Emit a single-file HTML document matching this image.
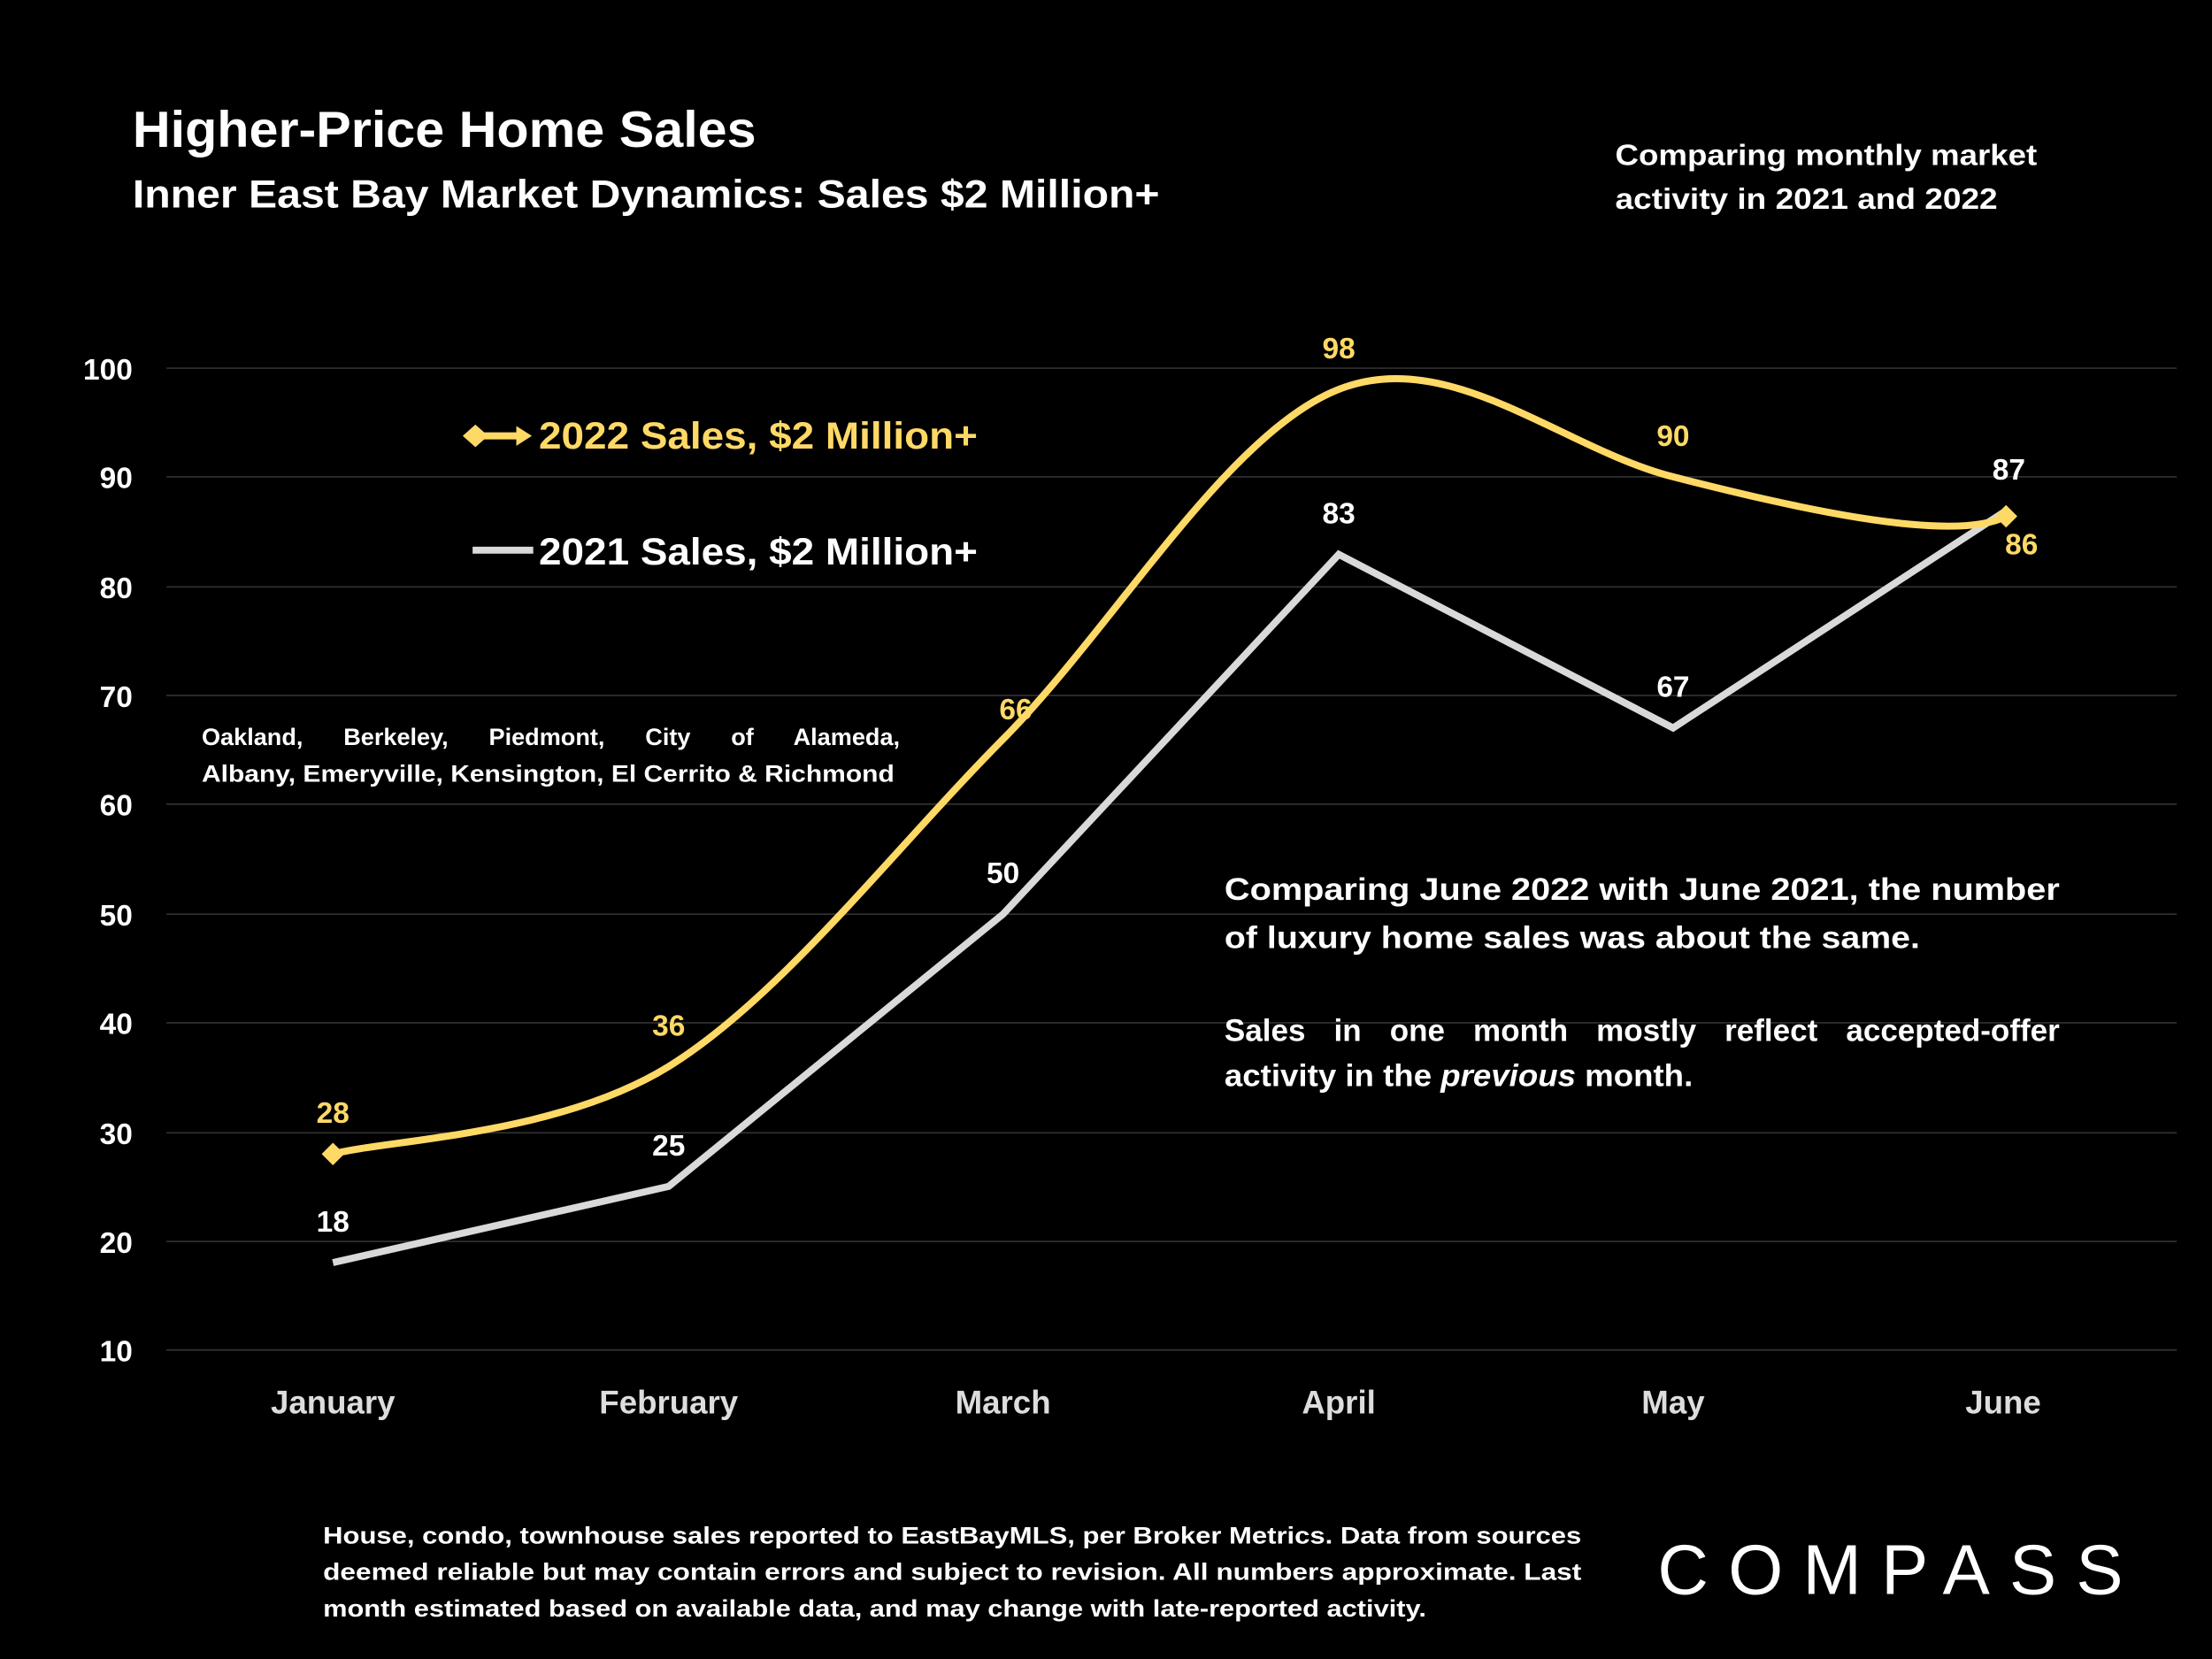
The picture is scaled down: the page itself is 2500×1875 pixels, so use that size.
<!DOCTYPE html>
<html><head><meta charset="utf-8"><style>
html,body{margin:0;padding:0;background:#000;}
svg{display:block;}
text{font-family:"Liberation Sans",sans-serif;font-weight:bold;}
</style></head><body>
<svg width="2500" height="1875" viewBox="0 0 1568 1176" xmlns="http://www.w3.org/2000/svg">
<rect width="1568" height="1176" fill="#000"/>
<text x="94" y="104" fill="#fff" font-size="36" textLength="442" lengthAdjust="spacingAndGlyphs">Higher-Price Home Sales</text>
<text x="94" y="147" fill="#fff" font-size="28" textLength="728" lengthAdjust="spacingAndGlyphs">Inner East Bay Market Dynamics: Sales $2 Million+</text>
<text x="1145" y="117" fill="#fff" font-size="21" textLength="299" lengthAdjust="spacingAndGlyphs">Comparing monthly market</text>
<text x="1145" y="148" fill="#fff" font-size="21" textLength="271" lengthAdjust="spacingAndGlyphs">activity in 2021 and 2022</text>
<g stroke="#333" stroke-width="1">
<line x1="118" y1="261" x2="1543" y2="261"/><line x1="118" y1="338" x2="1543" y2="338"/>
<line x1="118" y1="416" x2="1543" y2="416"/><line x1="118" y1="493" x2="1543" y2="493"/>
<line x1="118" y1="570" x2="1543" y2="570"/><line x1="118" y1="648" x2="1543" y2="648"/>
<line x1="118" y1="725" x2="1543" y2="725"/><line x1="118" y1="803" x2="1543" y2="803"/>
<line x1="118" y1="880" x2="1543" y2="880"/><line x1="118" y1="957" x2="1543" y2="957"/>
</g>
<g fill="#fff" font-size="21" text-anchor="end">
<text x="94" y="269">100</text><text x="94" y="346">90</text><text x="94" y="424">80</text>
<text x="94" y="501">70</text><text x="94" y="578">60</text><text x="94" y="656">50</text>
<text x="94" y="733">40</text><text x="94" y="811">30</text><text x="94" y="888">20</text>
<text x="94" y="965">10</text>
</g>
<g fill="#ddd" font-size="23" text-anchor="middle">
<text x="236" y="1002">January</text><text x="474" y="1002">February</text><text x="711" y="1002">March</text>
<text x="949" y="1002">April</text><text x="1186" y="1002">May</text><text x="1420" y="1002">June</text>
</g>
<polyline points="236,895 474,841 711,648 949,393 1186,516 1422,362" fill="none" stroke="#d9d9d9" stroke-width="5"/>
<path d="M236,818 C275.7,807.7 394.8,805 474,756 C553.2,707 631.8,604 711,524 C790.2,444 869.8,307 949,276 C1028.2,245 1107.2,318 1186,338 C1264.8,358 1382.7,386.3 1422,366" fill="none" stroke="#ffd966" stroke-width="5"/>
<path d="M228,818 L236,810 L244,818 L236,826 Z" fill="#ffd966"/>
<path d="M1414,366 L1422,358 L1430,366 L1422,374 Z" fill="#ffd966"/>
<g font-size="21" text-anchor="middle">
<text x="236" y="796" fill="#ffd966">28</text><text x="474" y="734" fill="#ffd966">36</text>
<text x="720" y="510" fill="#ffd966">66</text><text x="949" y="254" fill="#ffd966">98</text>
<text x="1186" y="316" fill="#ffd966">90</text><text x="1433" y="393" fill="#ffd966">86</text>
<text x="236" y="873" fill="#fff">18</text><text x="474" y="819" fill="#fff">25</text>
<text x="711" y="626" fill="#fff">50</text><text x="949" y="371" fill="#fff">83</text>
<text x="1186" y="494" fill="#fff">67</text><text x="1424" y="340" fill="#fff">87</text>
</g>
<line x1="337" y1="309" x2="370" y2="309" stroke="#ffd966" stroke-width="5"/>
<path d="M328,309 L337,301 L346,309 L337,317 Z" fill="#ffd966"/>
<path d="M366,302 L377,309 L366,316 Z" fill="#ffd966"/>
<text x="382" y="318" fill="#ffd966" font-size="27" textLength="311" lengthAdjust="spacingAndGlyphs">2022 Sales, $2 Million+</text>
<line x1="335" y1="390" x2="378" y2="390" stroke="#d9d9d9" stroke-width="5"/>
<text x="382" y="400" fill="#fff" font-size="27" textLength="311" lengthAdjust="spacingAndGlyphs">2021 Sales, $2 Million+</text>
<text x="143" y="528" fill="#fff" font-size="17" word-spacing="24">Oakland, Berkeley, Piedmont, City of Alameda,</text>
<text x="143" y="554" fill="#fff" font-size="17" textLength="491" lengthAdjust="spacingAndGlyphs">Albany, Emeryville, Kensington, El Cerrito &amp; Richmond</text>
<text x="868" y="638" fill="#fff" font-size="22" textLength="592" lengthAdjust="spacingAndGlyphs">Comparing June 2022 with June 2021, the number</text>
<text x="868" y="672" fill="#fff" font-size="22" textLength="493" lengthAdjust="spacingAndGlyphs">of luxury home sales was about the same.</text>
<text x="868" y="738" fill="#fff" font-size="22" word-spacing="14" textLength="592" lengthAdjust="spacingAndGlyphs">Sales in one month mostly reflect accepted-offer</text>
<text x="868" y="770" fill="#fff" font-size="22" textLength="332" lengthAdjust="spacingAndGlyphs">activity in the <tspan font-style="italic">previous</tspan> month.</text>
<text x="229" y="1094" fill="#fff" font-size="17" textLength="892" lengthAdjust="spacingAndGlyphs">House, condo, townhouse sales reported to EastBayMLS, per Broker Metrics. Data from sources</text>
<text x="229" y="1120" fill="#fff" font-size="17" textLength="892" lengthAdjust="spacingAndGlyphs">deemed reliable but may contain errors and subject to revision. All numbers approximate. Last</text>
<text x="229" y="1146" fill="#fff" font-size="17" textLength="782" lengthAdjust="spacingAndGlyphs">month estimated based on available data, and may change with late-reported activity.</text>
<text x="1175" y="1130" fill="#fff" font-size="50" style="font-weight:normal" textLength="330" lengthAdjust="spacing">COMPASS</text>
</svg>
</body></html>
